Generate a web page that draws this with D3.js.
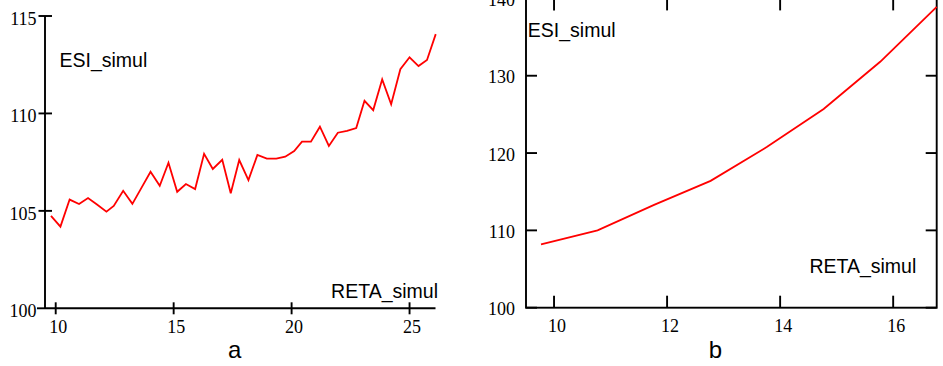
<!DOCTYPE html>
<html>
<head>
<meta charset="utf-8">
<script src="https://cdn.jsdelivr.net/npm/d3@7"></script>
<style>
  html, body { margin: 0; padding: 0; background: #fff; }
  svg { display: block; }
  .tick-label { font-family: "Liberation Serif", "Times New Roman", serif; font-size: 18px; fill: #000; }
  .var-label { font-family: "Liberation Sans", Arial, sans-serif; font-size: 19.5px; fill: #000; }
  .panel-label { font-family: "Liberation Sans", Arial, sans-serif; font-size: 24px; fill: #000; }
</style>
</head>
<body>
<svg id="chart" width="943" height="366"></svg>
<script>
// ---------- Data ----------
// Panel a: ESI_simul vs RETA_simul (noisy simulation)
const retaA = [9.80, 10.20, 10.59, 10.99, 11.37, 11.75, 12.15, 12.46, 12.86, 13.25,
               13.64, 14.02, 14.41, 14.78, 15.15, 15.52, 15.91, 16.29, 16.66, 17.06,
               17.42, 17.78, 18.17, 18.55, 18.95, 19.35, 19.73, 20.11, 20.44, 20.82,
               21.20, 21.58, 21.96, 22.35, 22.74, 23.09, 23.46, 23.84, 24.22, 24.61,
               25.00, 25.38, 25.74, 26.11];
const esiA = [104.74, 104.19, 105.58, 105.35, 105.66, 105.33, 104.96, 105.25, 106.03, 105.36,
              106.19, 107.01, 106.29, 107.47, 105.98, 106.38, 106.12, 107.93, 107.15, 107.62,
              105.90, 107.61, 106.58, 107.87, 107.68, 107.68, 107.78, 108.07, 108.55, 108.55,
              109.32, 108.33, 109.01, 109.10, 109.25, 110.65, 110.17, 111.75, 110.47, 112.27,
              112.88, 112.43, 112.74, 114.07];
const xTicksA = [10, 15, 20, 25];
const yTicksA = [100, 105, 110, 115];

// Panel b: ESI_simul vs RETA_simul (smooth)
const retaB = [9.77, 10.77, 11.77, 12.77, 13.77, 14.77, 15.77, 16.77];
const esiB  = [108.2, 110.0, 113.3, 116.4, 120.8, 125.7, 131.8, 138.9];
const xTicksB = [10, 12, 14, 16];
const yTicksB = [100, 110, 120, 130, 140];

const yLabel = "ESI_simul";
const xLabel = "RETA_simul";
const panelNames = ["a", "b"];

// ---------- Drawing ----------
const svg = d3.select("#chart");
const axisColor = "#000";
const axisW = 1.9;
const lineColor = "#ff0000";
const lineW = 1.8;

// ----- Panel a -----
{
  const x = d3.scaleLinear().domain([9.546, 26.1]).range([45, 435.5]);
  const y = d3.scaleLinear().domain([100, 115]).range([308.3, 16]);
  const g = svg.append("g");

  g.append("line").attr("x1", 45).attr("x2", 45).attr("y1", y(115)).attr("y2", y(100))
    .attr("stroke", axisColor).attr("stroke-width", axisW);
  g.append("line").attr("x1", 45).attr("x2", 435.5).attr("y1", y(100)).attr("y2", y(100))
    .attr("stroke", axisColor).attr("stroke-width", axisW);

  yTicksA.forEach(v => {
    g.append("line").attr("x1", v === 100 ? 37 : 38.5).attr("x2", v === 100 ? 45 : 52)
      .attr("y1", y(v)).attr("y2", y(v))
      .attr("stroke", axisColor).attr("stroke-width", axisW);
    g.append("text").attr("class", "tick-label").attr("x", 36.5).attr("y", y(v) + 9)
      .attr("text-anchor", "end").text(v);
  });
  xTicksA.forEach(v => {
    g.append("line").attr("x1", x(v)).attr("x2", x(v))
      .attr("y1", y(100) - 6).attr("y2", y(100) + 6)
      .attr("stroke", axisColor).attr("stroke-width", axisW);
    g.append("text").attr("class", "tick-label").attr("x", x(v) + 2.5).attr("y", 332.5)
      .attr("text-anchor", "middle").text(v);
  });

  const line = d3.line().x((d, i) => x(retaA[i])).y(d => y(d));
  g.append("path").datum(esiA).attr("d", line)
    .attr("fill", "none").attr("stroke", lineColor).attr("stroke-width", lineW);

  g.append("text").attr("class", "var-label").attr("x", 59.5).attr("y", 67).text(yLabel);
  g.append("text").attr("class", "var-label").attr("x", 438).attr("y", 298.3)
    .attr("text-anchor", "end").text(xLabel);
  g.append("text").attr("class", "panel-label").attr("x", 234.7).attr("y", 358.3)
    .attr("text-anchor", "middle").text(panelNames[0]);
}

// ----- Panel b -----
{
  const x = d3.scaleLinear().domain([9.504, 16.77]).range([526, 936.7]);
  const y = d3.scaleLinear().domain([100, 140]).range([307.7, -1.6]);
  const g = svg.append("g");

  const x0 = x.range()[0], x1 = x.range()[1];
  const yb = y(100), yt = y(140);

  g.append("rect").attr("x", x0).attr("y", yt).attr("width", x1 - x0).attr("height", yb - yt)
    .attr("fill", "none").attr("stroke", axisColor).attr("stroke-width", axisW);

  yTicksB.forEach(v => {
    g.append("line").attr("x1", x0).attr("x2", x0 + 11).attr("y1", y(v)).attr("y2", y(v))
      .attr("stroke", axisColor).attr("stroke-width", axisW);
    g.append("line").attr("x1", x1 - 11).attr("x2", x1).attr("y1", y(v)).attr("y2", y(v))
      .attr("stroke", axisColor).attr("stroke-width", axisW);
    g.append("text").attr("class", "tick-label").attr("x", 515).attr("y", y(v) + 7.6)
      .attr("text-anchor", "end").text(v);
  });
  xTicksB.forEach(v => {
    g.append("line").attr("x1", x(v)).attr("x2", x(v)).attr("y1", yb - 12).attr("y2", yb)
      .attr("stroke", axisColor).attr("stroke-width", axisW);
    g.append("line").attr("x1", x(v)).attr("x2", x(v)).attr("y1", yt).attr("y2", yt + 12)
      .attr("stroke", axisColor).attr("stroke-width", axisW);
    g.append("text").attr("class", "tick-label").attr("x", x(v) + 3).attr("y", 332)
      .attr("text-anchor", "middle").text(v);
  });

  const line = d3.line().x((d, i) => x(retaB[i])).y(d => y(d));
  g.append("path").datum(esiB).attr("d", line)
    .attr("fill", "none").attr("stroke", lineColor).attr("stroke-width", lineW);

  g.append("text").attr("class", "var-label").attr("x", 527.8).attr("y", 36.7).text(yLabel);
  g.append("text").attr("class", "var-label").attr("x", 916.3).attr("y", 273.3)
    .attr("text-anchor", "end").text(xLabel);
  g.append("text").attr("class", "panel-label").attr("x", 715.5).attr("y", 358)
    .attr("text-anchor", "middle").text(panelNames[1]);
}
</script>
</body>
</html>
